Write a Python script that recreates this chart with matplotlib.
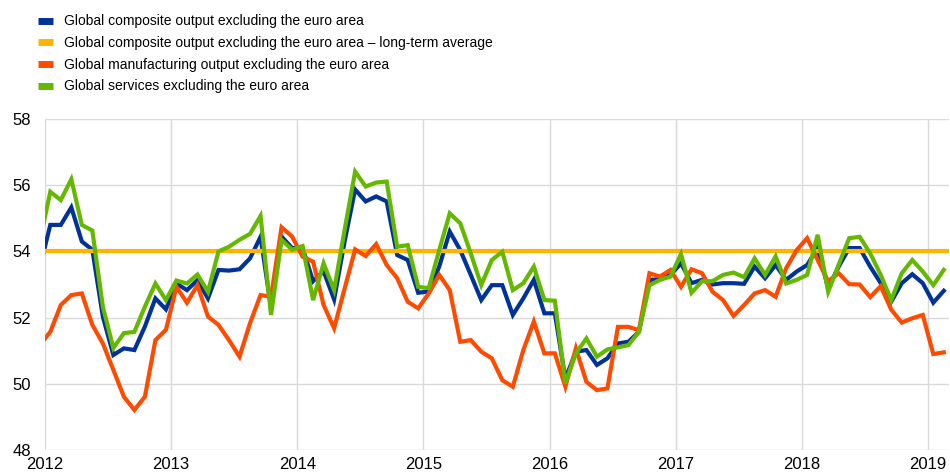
import matplotlib
matplotlib.use("Agg")
import matplotlib.pyplot as plt
import numpy as np

plt.rcParams["font.family"] = ["Liberation Sans", "DejaVu Sans"]

# monthly PMI readings, Dec 2011 (clipped at the left edge) to Feb 2019
composite = [
    53.5,
    54.8, 54.8, 55.33, 54.3, 54.05, 52.03, 50.87, 51.07, 51.02, 51.73, 52.58, 52.25,
    53.03, 52.83, 53.13, 52.58, 53.44, 53.42, 53.46, 53.79, 54.44, 52.3, 54.45, 54.1,
    54.1, 53.1, 53.4, 52.55, 54.3, 55.87, 55.51, 55.66, 55.51, 53.89, 53.74, 52.75,
    52.79, 53.54, 54.6, 54.04, 53.29, 52.53, 52.98, 52.98, 52.08, 52.58, 53.14, 52.13,
    52.13, 50.15, 50.97, 51.02, 50.57, 50.77, 51.22, 51.27, 51.57, 53.14, 53.16, 53.29,
    53.64, 53.04, 53.14, 53.0, 53.04, 53.04, 53.02, 53.54, 53.19, 53.59, 53.14, 53.39,
    53.59, 54.1, 52.89, 53.54, 54.1, 54.1, 53.54, 53.04, 52.48, 53.04, 53.31, 53.04,
    52.45, 52.81,
]
manufacturing = [
    51.17,
    51.57, 52.38, 52.68, 52.73, 51.78, 51.22, 50.42, 49.61, 49.21, 49.61, 51.32, 51.63,
    52.93, 52.45, 52.98, 52.03, 51.78, 51.32, 50.82, 51.83, 52.68, 52.63, 54.73, 54.45,
    53.84, 53.69, 52.38, 51.68, 52.88, 54.06, 53.86, 54.22, 53.59, 53.19, 52.48, 52.28,
    52.73, 53.29, 52.83, 51.27, 51.32, 50.97, 50.77, 50.11, 49.91, 51.02, 51.88, 50.92,
    50.92, 49.91, 51.07, 50.06, 49.81, 49.86, 51.72, 51.72, 51.62, 53.34, 53.24, 53.44,
    52.93, 53.46, 53.34, 52.78, 52.53, 52.05, 52.38, 52.73, 52.83, 52.63, 53.49, 54.04,
    54.4, 53.74, 53.1, 53.34, 53.01, 53.0, 52.62, 52.95, 52.24, 51.85, 51.98, 52.08,
    50.9, 50.95,
]
services = [
    54.3,
    55.8, 55.55, 56.18, 54.8, 54.63, 52.33, 51.08, 51.53, 51.57, 52.33, 53.03, 52.53,
    53.12, 53.03, 53.3, 52.78, 54.0, 54.14, 54.35, 54.53, 55.07, 52.08, 54.35, 54.05,
    54.16, 52.53, 53.64, 52.83, 54.65, 56.41, 55.96, 56.08, 56.11, 54.14, 54.19, 52.93,
    52.89, 54.04, 55.15, 54.85, 53.94, 52.98, 53.74, 53.99, 52.83, 53.04, 53.54, 52.53,
    52.51, 50.01, 50.92, 51.37, 50.82, 51.04, 51.1, 51.17, 51.57, 52.98, 53.14, 53.24,
    53.92, 52.75, 53.1, 53.1, 53.29, 53.36, 53.22, 53.79, 53.29, 53.85, 53.03, 53.14,
    53.29, 54.5, 52.78, 53.6, 54.4, 54.44, 53.94, 53.29, 52.53, 53.34, 53.74, 53.39,
    52.98, 53.44,
]
long_term_avg = 54.0
years = list(range(2012, 2020))

labels = [
    "Global composite output excluding the euro area",
    "Global composite output excluding the euro area \u2013 long-term average",
    "Global manufacturing output excluding the euro area",
    "Global services excluding the euro area",
]
colors = ["#003299", "#FFB400", "#FF4B00", "#65B800"]

# mid-month positions in decimal years, starting with Dec 2011
x = 2011 + (11 + np.arange(len(composite)) + 0.5) / 12
x_lo, x_hi = 2012, 2019 + 2 / 12

fig = plt.figure(figsize=(9.5, 4.75), dpi=100)
ax = fig.add_axes([0.0474, 0.0526, 0.9516, 0.6969])

lw = 3.0
h1, = ax.plot(x, composite, color=colors[0], lw=lw, solid_joinstyle="miter")
h2, = ax.plot([x_lo, x_hi], [long_term_avg, long_term_avg], color=colors[1], lw=lw)
h3, = ax.plot(x, manufacturing, color=colors[2], lw=lw, solid_joinstyle="miter")
h4, = ax.plot(x, services, color=colors[3], lw=lw, solid_joinstyle="miter")

ax.set_xlim(x_lo, x_hi)
ax.set_ylim(48, 58)
ax.set_yticks(np.arange(48, 59, 2))
ax.set_xticks(years)
ax.set_xticklabels([str(y) for y in years])
ax.grid(True, color="#d9d9d9", lw=1)
ax.set_axisbelow(True)
for s in ax.spines.values():
    s.set_visible(False)
ax.tick_params(length=0, labelsize=12, colors="#000000")
ax.tick_params(axis="x", pad=5)
ax.tick_params(axis="y", pad=10)

fig.legend([h1, h2, h3, h4], labels, loc="upper left", bbox_to_anchor=(0.03, 0.99),
           frameon=False, fontsize=10, handlelength=1.05, handletextpad=0.8,
           labelspacing=0.55, borderaxespad=0.3)
for line in fig.legends[0].get_lines():
    line.set_linewidth(5)
    line.set_solid_capstyle("butt")

fig.savefig("out.png", dpi=100)
